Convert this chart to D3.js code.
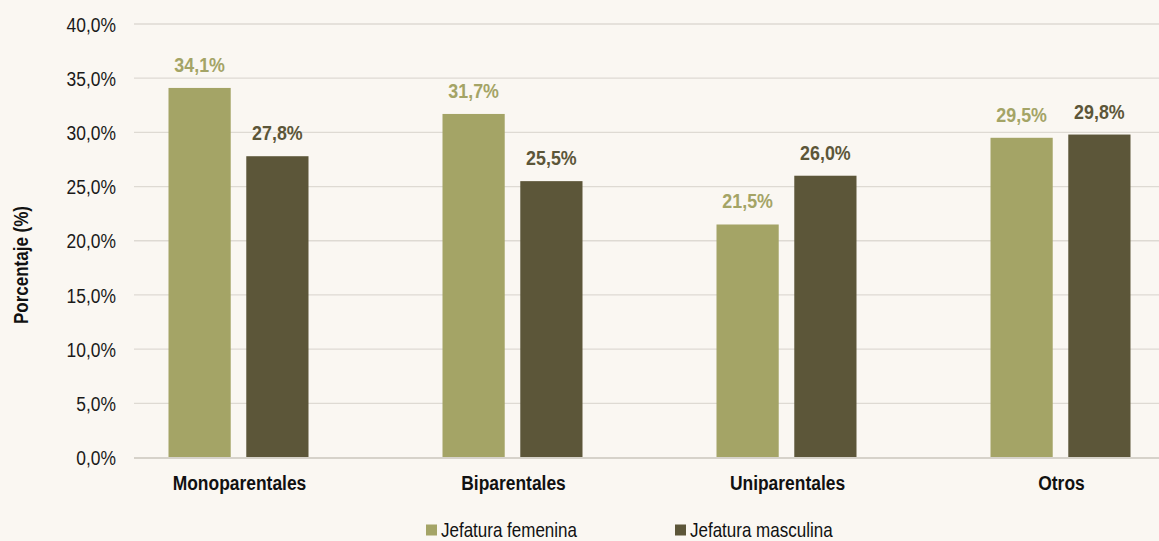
<!DOCTYPE html>
<html><head><meta charset="utf-8">
<script src="https://cdn.jsdelivr.net/npm/d3@7"></script>
<style>
html,body{margin:0;padding:0;background:#faf7f2;}
svg{display:block;font-family:"Liberation Sans",Arial,sans-serif;}
</style></head><body>
<svg id="c" width="1159" height="541"></svg>
<script>
const categories = ["Monoparentales","Biparentales","Uniparentales","Otros"];
const series = ["Jefatura femenina","Jefatura masculina"];
const femenina = [34.1, 31.7, 21.5, 29.5];
const masculina = [27.8, 25.5, 26.0, 29.8];
const yTicks = [0,5,10,15,20,25,30,35,40];
const colors = ["#a4a466","#5c5639"];

const SX = 0.85; // condensed look
const svg = d3.select("#c");
const W = 1159, H = 541;
const y = d3.scaleLinear().domain([0,40]).range([457.5,24]);
const x = d3.scaleBand().domain(categories).range([102.5,1198.5]).paddingInner(0).paddingOuter(0);
const xs = d3.scaleBand().domain(series).range([x.bandwidth()/2-71, x.bandwidth()/2+69]).paddingInner(0.2).paddingOuter(0);

const fmt = v => d3.format(".1f")(v).replace(".",",") + "%";

// gridlines
svg.append("g").selectAll("line").data(yTicks.filter(t=>t>0)).join("line")
  .attr("x1",134).attr("x2",W).attr("y1",d=>y(d)).attr("y2",d=>y(d))
  .attr("stroke","#dedad3").attr("stroke-width",1.3);

// y axis
const yAxis = d3.axisLeft(y).tickValues(yTicks).tickFormat(fmt).tickSize(0).tickPadding(0);
const ga = svg.append("g").attr("transform","translate(116,0)").call(yAxis);
ga.select(".domain").remove();
ga.selectAll("text").attr("font-size",20.5).attr("fill","#1a1a1a").attr("font-family",null)
  .attr("x",0).attr("dy","0.35em").attr("transform",`scale(${SX},1)`);

const data = categories.map((c,i)=>({cat:c, vals:[femenina[i], masculina[i]]}));

const groups = svg.append("g").selectAll("g").data(data).join("g")
  .attr("transform",d=>`translate(${x(d.cat)},0)`);
groups.selectAll("rect").data(d=>d.vals.map((v,j)=>({s:series[j],v,j}))).join("rect")
  .attr("x",d=>xs(d.s)).attr("width",xs.bandwidth())
  .attr("y",d=>y(d.v)).attr("height",d=>y(0)-y(d.v))
  .attr("fill",d=>colors[d.j]);
groups.selectAll("text.val").data(d=>d.vals.map((v,j)=>({s:series[j],v,j}))).join("text")
  .attr("class","val")
  .attr("transform",d=>`translate(${xs(d.s)+xs.bandwidth()/2},${y(d.v)-16}) scale(${SX},1)`)
  .attr("text-anchor","middle").attr("font-weight","bold").attr("font-size",21)
  .attr("fill",d=>colors[d.j]).text(d=>fmt(d.v));

// zero line
svg.append("line").attr("x1",134).attr("x2",W).attr("y1",y(0)+0.5).attr("y2",y(0)+0.5)
  .attr("stroke","#d6d2ca").attr("stroke-width",2);

// x axis labels
const xAxis = d3.axisBottom(x).tickSize(0).tickPadding(0);
const gx = svg.append("g").attr("transform","translate(0,"+(y(0))+")").call(xAxis);
gx.select(".domain").remove();
gx.selectAll("text").attr("font-size",20.5).attr("font-weight","bold").attr("fill","#111")
  .attr("font-family",null).attr("dy",null).attr("y",0)
  .attr("transform",`translate(0,32.5) scale(${SX},1)`);

// y title
svg.append("text").attr("transform",`translate(28,265) rotate(-90) scale(${SX},1)`)
  .attr("text-anchor","middle").attr("font-size",20).attr("font-weight","bold").attr("fill","#111")
  .text("Porcentaje (%)");

// legend
const lx = [426, 675];
const lg = svg.append("g").selectAll("g").data(series).join("g")
  .attr("transform",(d,i)=>`translate(${lx[i]},0)`);
lg.append("rect").attr("x",0).attr("y",524.5).attr("width",11).attr("height",11).attr("fill",(d,i)=>colors[i]);
lg.append("text").attr("transform",`translate(15,536.5) scale(${SX},1)`)
  .attr("font-size",20).attr("fill","#111").text(d=>d);
</script>
</body></html>
